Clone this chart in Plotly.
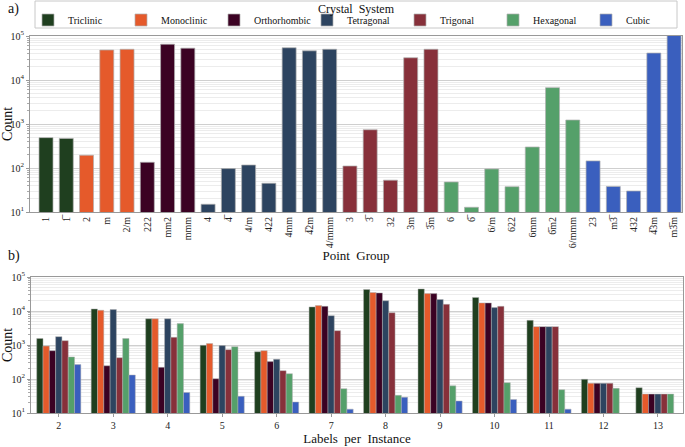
import plotly.graph_objects as go

FONT = "Liberation Serif"
W, H = 685, 447

systems = ["Triclinic", "Monoclinic", "Orthorhombic", "Tetragonal", "Trigonal", "Hexagonal", "Cubic"]
colors = ["#1f3f1f", "#e55a2b", "#3b0223", "#2d4460", "#87303a", "#55a06a", "#3a5fbe"]

OL = "\u0305"
point_groups = {
    "Triclinic": ["1", "1" + OL],
    "Monoclinic": ["2", "m", "2/m"],
    "Orthorhombic": ["222", "mm2", "mmm"],
    "Tetragonal": ["4", "4" + OL, "4/m", "422", "4mm", "4" + OL + "2m", "4/mmm"],
    "Trigonal": ["3", "3" + OL, "32", "3m", "3" + OL + "m"],
    "Hexagonal": ["6", "6" + OL, "6/m", "622", "6mm", "6" + OL + "m2", "6/mmm"],
    "Cubic": ["23", "m3" + OL, "432", "4" + OL + "3m", "m3" + OL + "m"],
}
point_group_counts = {
    "Triclinic": [490, 470],
    "Monoclinic": [195, 48000, 50000],
    "Orthorhombic": [135, 65000, 53000],
    "Tetragonal": [15, 97, 117, 45, 54000, 46000, 50000],
    "Trigonal": [111, 740, 53, 32000, 50000],
    "Hexagonal": [48, 12.8, 95, 37.6, 300, 6700, 1230],
    "Cubic": [145, 38, 30, 41000, 110000],
}

labels_per_instance = [2, 3, 4, 5, 6, 7, 8, 9, 10, 11, 12, 13]
label_counts = {
    "Triclinic":    [1550, 11500, 5900, 980, 635, 13200, 42800, 44500, 25000, 5300, 98, 55.5],
    "Monoclinic":   [930, 10500, 5900, 1100, 680, 14400, 35000, 32500, 17300, 3470, 74.5, 36],
    "Orthorhombic": [680, 245, 220, 102, 325, 13700, 34000, 32500, 17300, 3470, 74.5, 36],
    "Tetragonal":   [1760, 11000, 5900, 960, 380, 7300, 20000, 21800, 12600, 3470, 74.5, 36],
    "Trigonal":     [1340, 425, 1680, 730, 176, 2640, 8900, 15700, 13700, 3470, 74.5, 36],
    "Hexagonal":    [445, 1550, 4260, 890, 143, 52, 33, 63, 78, 48.5, 53, 36],
    "Cubic":        [265, 131, 40, 31, 21, 13, 29, 22.5, 25, 13, None, None],
}

all_groups = [pg for s in systems for pg in point_groups[s]]

def px_x(p):
    return p / W

def px_y(p):
    return 1 - p / H

fig = go.Figure()
for s, c in zip(systems, colors):
    fig.add_trace(go.Bar(
        x=point_groups[s], y=point_group_counts[s], name=s,
        marker=dict(color=c, line=dict(color="#b0b0b0", width=0.7)),
        offsetgroup="top", width=0.69, xaxis="x", yaxis="y", legendgroup=s,
    ))
for i, (s, c) in enumerate(zip(systems, colors)):
    fig.add_trace(go.Bar(
        x=labels_per_instance, y=label_counts[s], name=s,
        marker=dict(color=c, line=dict(color="#b0b0b0", width=0.5)),
        offsetgroup=str(i), xaxis="x2", yaxis="y2", showlegend=False, legendgroup=s,
    ))

ytickvals = [10, 100, 1000, 10000, 100000]
yticktext = ["10<sup>%d</sup>" % k for k in range(1, 6)]
minorvals = [m * 10 ** k for k in range(1, 5) for m in range(2, 10)]

yax = dict(
    type="log", range=[1, 5], tickvals=ytickvals, ticktext=yticktext,
    showgrid=True, gridcolor="#cfcfcf", gridwidth=1,
    minor=dict(tickvals=minorvals, showgrid=True, gridcolor="#ececec", gridwidth=0.6,
               ticks="outside", ticklen=2, tickcolor="#aaa"),
    ticks="outside", ticklen=3, tickcolor="#999",
    showline=True, linecolor="#999", mirror=True, linewidth=1,
    tickfont=dict(size=10, color="#222"), zeroline=False, automargin=False,
    title=dict(text="Count", font=dict(size=14, color="#111"), standoff=2),
)

fig.update_layout(
    width=W, height=H,
    margin=dict(l=0, r=0, t=0, b=0, pad=0),
    paper_bgcolor="white", plot_bgcolor="white",
    font=dict(family=FONT, color="#111"),
    barmode="group", bargap=0.19, bargroupgap=0,
    xaxis=dict(
        domain=[px_x(30), px_x(682)], anchor="y", type="category",
        categoryorder="array", categoryarray=all_groups,
        range=[-0.79, 31.39], tickangle=-90, automargin=False,
        tickfont=dict(size=10, color="#222"),
        showline=True, linecolor="#999", mirror=True, showgrid=False,
        ticks="", title=dict(text="Point  Group", font=dict(size=13), standoff=0),
    ),
    yaxis=dict(domain=[px_y(212), px_y(36)], anchor="x", **yax),
    xaxis2=dict(
        domain=[px_x(31), px_x(683)], anchor="y2", range=[1.49, 13.46], automargin=False,
        tickvals=labels_per_instance, tickfont=dict(size=10, color="#222"),
        showline=True, linecolor="#999", mirror=True, showgrid=False,
        ticks="outside", ticklen=3, tickcolor="#999", zeroline=False,
        title=dict(text="Labels  per  Instance", font=dict(size=13), standoff=0),
    ),
    yaxis2=dict(domain=[px_y(413), px_y(277)], anchor="x2", **yax),
    legend=dict(
        orientation="h",
        x=px_x(28), xanchor="left", y=px_y(20), yanchor="middle",
        borderwidth=0, bgcolor="rgba(0,0,0,0)",
        font=dict(size=10, color="#111"),
        entrywidth=48, entrywidthmode="pixels", tracegroupgap=0,
    ),
    shapes=[
        dict(type="rect", xref="paper", yref="paper",
             x0=px_x(35), x1=px_x(677), y0=px_y(28), y1=px_y(1),
             line=dict(color="#c8c8c8", width=1), fillcolor="rgba(0,0,0,0)", layer="below"),
    ],
    annotations=[
        dict(text="Crystal  System", x=px_x(356), y=px_y(9),
             xref="paper", yref="paper", showarrow=False, font=dict(size=12),
             xanchor="center", yanchor="middle"),
        dict(text="a)", x=px_x(6), y=px_y(9), xref="paper", yref="paper",
             showarrow=False, font=dict(size=14), xanchor="left", yanchor="middle"),
        dict(text="b)", x=px_x(6), y=px_y(256), xref="paper", yref="paper",
             showarrow=False, font=dict(size=14), xanchor="left", yanchor="middle"),
    ],
)

fig.write_html("out.html", config={"displayModeBar": False},
               post_script="document.body.style.margin='0';")
